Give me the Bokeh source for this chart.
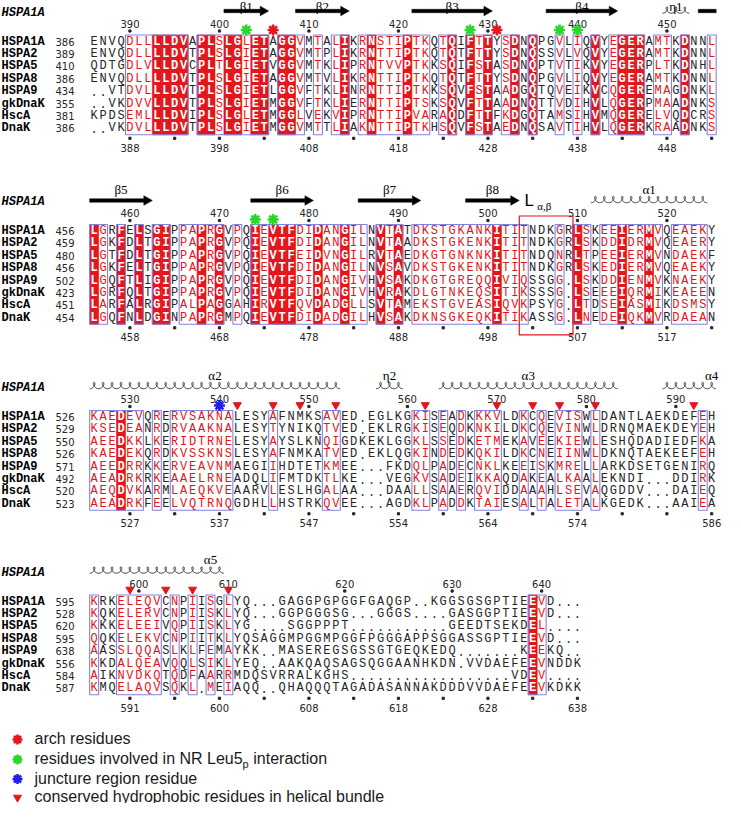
import numpy as np
from bokeh.plotting import figure
from bokeh.models import Range1d
from bokeh.core.properties import value
from bokeh.embed import file_html
from bokeh.resources import INLINE

# ---------------- data ----------------
NAMES = ["HSPA1A", "HSPA2", "HSPA5", "HSPA8", "HSPA9", "gkDnaK", "HscA", "DnaK"]
REF_NAME = "HSPA1A"

SEQ_1 = [
    "ENVQDLLLLDVAPLSLGLETAGGVMTALIKRNSTIPTKQTQIFTTYSDNQPGVLIQVYEGERAMTKDNNL",
    "ENVQDLLLLDVTPLSLGIETAGGVMTPLIKRNTTIPTKQTQTFTTYSDNQSSVLVQVYEGERAMTKDNNL",
    "QDTGDLVLLDVCPLTLGIETVGGVMTKLIPRNTVVPTKKSQIFSTASDNQPTVTIKVYEGERPLTKDNHL",
    "ENVQDLLLLDVTPLSLGIETAGGVMTVLIKRNTTIPTKQTQTFTTYSDNQPGVLIQVYEGERAMTKDNNL",
    "..VTDVLLLDVTPLSLGIETLGGVFTKLINRNTTIPTKKSQVFSTAADGQTQVEIKVCQGEREMAGDNKL",
    "..VKDVVLLDVTPLSLGIETMGGVFTKLIERNTTIPTSKSQVFTTAADNQTTVDIHVLQGERPMAADNKS",
    "KPDSEMLLLDVIPLSLGLETMGGLVEKVIPRNTTIPVARAQDFTTFKDGQTAMSIHVMQGERELVQDCRS",
    "..VKDVLLLDVTPLSLGIETMGGVMTTLIAKNTTIPTKHSQVFSTAEDNQSAVTIHVLQGERKRAADNKS",
]
START_1 = [386, 389, 410, 386, 434, 355, 381, 386]
CONS_1 = "NNNNSSSCCCCNCCSCCSCCNCCSNSNSCNSCSSSCSSNSCNCSCNSCNCNNSNSNCNSCCCNSSNCNNS"
BOTTOM_1 = [388, 398, 408, 418, 428, 438, 448]

SEQ_2 = [
    "LGRFELSGIPPAPRGVPQIEVTFDIDANGILNVTATDKSTGKANKITITNDKGRLSKEEIERMVQEAEKY",
    "LGKFDLTGIPPAPRGVPQIEVTFDIDANGILNVTAADKSTGKENKITITNDKGRLSKDDIDRMVQEAERY",
    "LGTFDLTGIPPAPRGVPQIEVTFEIDVNGILRVTAEDKGTGNKNKITITNDQNRLTPEEIERMVNDAEKF",
    "LGKFELTGIPPAPRGVPQIEVTFDIDANGILNVSAVDKSTGKENKITITNDKGRLSKEDIERMVQEAEKY",
    "LGQFTLIGIPPAPRGVPQIEVTFDIDANGIVHVSAKDKGTGREQQIVIQSSGG.LSKDDIENMVKNAEKY",
    "LGRFQLTGIPPAPRGVPQIEVTFDIDANGIVHVRAKDLGTNKEQSITIKSSSG.LSEEEIQRMIKEAEEN",
    "LARFALRGIPALPAGGAHIRVTFQVDADGLLSVTAMEKSTGVEASIQVKPSYG.LTDSEIASMIKDSMSY",
    "LGQFNLDGINPAPRGMPQIEVTFDIDADGILHVSAKDKNSGKEQKITIKASSG.LNEDEIQKMVRDAEAN",
]
START_2 = [456, 459, 480, 456, 502, 423, 451, 454]
CONS_2 = "CSNCNCNCCNSSCSCNSNCSCCCSSCSSCSSNCSCNSSSSSSSSSCSSSNNNSNCSNSSCSSCSNSSSSN"
BOTTOM_2 = [458, 468, 478, 488, 498, 507, 517]

SEQ_3 = [
    "KAEDEVQRERVSAKNALESYAFNMKSAVED.EGLKGKISEADKKKVLDKCQEVISWLDANTLAEKDEFEH",
    "KSEDEANRDRVAAKNALESYTYNIKQTVED.EKLRGKISEQDKNKILDKCQEVINWLDRNQMAEKDEYEH",
    "AEEDKKLKERIDTRNELESYAYSLKNQIGDKEKLGGKLSSEDKETMEKAVEEKIEWLESHQDADIEDFKA",
    "KAEDEKQRDKVSSKNSLESYAFNMKATVED.EKLQGKINDEDKQKILDKCNEIINWLDKNQTAEKEEFEH",
    "AEEDRRKKERVEAVNMAEGIIHDTETKMEE...FKDQLPADECNKLKEEISKMRELLARKDSETGENIRQ",
    "AEADRKRKEAAELRNEADQLIFMTDKTLKE...VEGKVSADEIKKAQDAKEALKAALEKNDI...DDIRK",
    "AEQDVKARMLAEQKVEAARVLESLHGALAA...DAALLSAAERQVIDDAAAHLSEVAQGDDV...DAIEQ",
    "AEADRKFEELVQTRNQGDHLLHSTRKQVEE...AGDKLPADDKTAIESALTALETALKGEDK...AAIEA",
]
START_3 = [526, 529, 550, 526, 571, 492, 520, 523]
CONS_3 = "SSSCSSNSNSSSSSSSNNNNSNNNNNSSNNNNNNNNSSNSNSNSSSNNSNSNSSSNSNNNNNNNNNNNSN"
BOTTOM_3 = [527, 537, 547, 554, 564, 574, 586]

SEQ_4 = [
    "KRKELEQVCNPIISGLYQ...GAGGPGPGGFGAQGP..KGGSGSGPTIEEVD...",
    "KQKELERVCNPIISKLYQ...GGPGGGSG...GGGS....GASGGPTIEEVD...",
    "KKKELEEIVQPIISKLYG....SGGPPPT...........GEEDTSEKDEL....",
    "QQKELEKVCNPIITKLYQSAGGMPGGMPGGFPGGGAPPSGGASSGPTIEEVD...",
    "AASSLQQASLKLFEMAYKK..MASEREGSGSSGTGEQKEDQ.......KEEKQ..",
    "KKDALQEAVQQLSIKLYEQ..AAKQAQSAGSQGGAANHKDN.VVDAEFEEVNDDK",
    "AIKNVDKQTQDFAARRMDQSVRRALKGHS..................VDEV....",
    "KMQELAQVSQKL.MEIAQQ..QHAQQQTAGADASANNAKDDDVVDAEFEEVKDKK",
]
START_4 = [595, 528, 620, 595, 638, 556, 584, 587]
CONS_4 = "SNNSSSSSNSNSNSNS" + "NNNNNNNNNNNNNNNNNNNNNNNNNNNNNNNNN" + "CSNNNN"
BOTTOM_4 = [591, 600, 608, 618, 628, 638]

# secondary structure of HSPA1A (kind, label, first residue, last residue)
SS_KIND = ["E", "E", "E", "E", "H", "E", "E", "E", "E", "H", "H", "H", "H", "H", "H"]
SS_NAME = ["β1", "β2", "β3", "β4", "η1", "β5", "β6", "β7", "β8", "α1", "α2", "η2", "α3", "α4", "α5"]
SS_FROM = [401, 409, 422, 437, 450, 454, 474, 486, 498, 512, 526, 557, 564, 589, 595]
SS_TO = [405, 414, 430, 444, 452, 462, 480, 492, 503, 524, 553, 559, 583, 594, 609]
SS_LABEL_RES = {"α4": 594, "α5": 608}

LOOP_FROM, LOOP_TO = 504, 509          # L alpha,beta loop (HSPA1A numbering)
ARCH = [406, 431]
NR_LEU5 = [403, 428, 438, 440, 474, 476]
JUNCTURE = [540]
HYDROPHOBIC = [542, 546, 549, 553, 562, 570, 574, 577, 581, 592, 599, 603, 606, 610]

LEGEND_TEXT = ["arch residues", "residues involved in NR Leu5", "juncture region residue",
               "conserved hydrophobic residues in helical bundle"]

SEQS = [SEQ_1, SEQ_2, SEQ_3, SEQ_4]
STARTS = [START_1, START_2, START_3, START_4]
CONS = [CONS_1, CONS_2, CONS_3, CONS_4]
BOTTOMS = [BOTTOM_1, BOTTOM_2, BOTTOM_3, BOTTOM_4]

for b in range(4):
    for s in SEQS[b]:
        assert len(s) == len(CONS[b]), (b, s, len(s), len(CONS[b]))

# ---------------- layout / style ----------------
COL_PX = 8.95
COL0_PX = 92.7
Y0 = [49.0, 238.5, 424.5, 609.0]
ROWH = 12.4
RED = "#E3161B"
BLUE = "#8383E2"
BLACK = "#262626"
GREEN = "#2BD62B"
STARBLUE = "#1F1FE8"
MONO = "Liberation Mono"
SANS = "DejaVu Sans"
SERIF = "Liberation Serif"
LSANS = "Liberation Sans"


def pxc(px):
    return (px - COL0_PX) / COL_PX


p = figure(width=725, height=803, x_range=Range1d(pxc(8), pxc(733)), y_range=Range1d(811, 8),
           output_backend="svg", toolbar_location=None, title=None,
           x_axis_location=None, y_axis_location=None, min_border=0,
           outline_line_color=None, background_fill_color="white", border_fill_color="white")
p.grid.visible = False

# residue maps
ref_map = {}
for b in range(4):
    n = STARTS[b][0]
    for c, ch in enumerate(SEQS[b][0], start=1):
        if ch != ".":
            ref_map[n] = (b, c)
            n += 1

bold_x, bold_y, bold_t = [], [], []
nx, ny, nt, nc = [], [], [], []

for b in range(4):
    seqs, cons, y0 = SEQS[b], CONS[b], Y0[b]
    ncol = len(cons)
    ytop = y0 - ROWH / 2 - 0.3
    ybot = y0 + 7 * ROWH + ROWH / 2 + 0.3
    cc = [c for c in range(1, ncol + 1) if cons[c - 1] == "C"]
    p.quad(left=[c - 0.5 for c in cc], right=[c + 0.5 for c in cc], top=ytop, bottom=ybot,
           fill_color=RED, line_color=RED, line_width=0.6)
    runs = []
    c = 1
    while c <= ncol:
        if cons[c - 1] != "N":
            s0 = c
            while c <= ncol and cons[c - 1] != "N":
                c += 1
            runs.append((s0, c - 1))
        else:
            c += 1
    p.quad(left=[r[0] - 0.5 for r in runs], right=[r[1] + 0.5 for r in runs], top=ytop, bottom=ybot,
           fill_alpha=0, line_color=BLUE, line_width=1.1)
    for r, s in enumerate(seqs):
        yy = y0 + r * ROWH
        for c, ch in enumerate(s, start=1):
            k = cons[c - 1]
            if k == "C":
                bold_x.append(c); bold_y.append(yy); bold_t.append(ch)
            else:
                nx.append(c); ny.append(yy); nt.append(ch)
                nc.append(RED if (k == "S" and ch != ".") else BLACK)
    # names and start numbers
    p.text(x=[pxc(9)] * 8, y=[y0 + r * ROWH for r in range(8)], text=NAMES,
           text_font=value(MONO), text_font_style="bold", text_font_size="12px",
           text_align="left", text_baseline="middle", text_color="black")
    p.text(x=[pxc(63)] * 8, y=[y0 + r * ROWH for r in range(8)], text=[str(v) for v in STARTS[b]],
           text_font=value(SANS), text_font_size="10px", text_align="left",
           text_baseline="middle", text_color=BLACK)
    # header
    p.text(x=[pxc(9)], y=[y0 - 29], text=[REF_NAME], text_font=value(MONO),
           text_font_style="bold italic", text_font_size="12px", text_align="left",
           text_baseline="middle", text_color="black")
    # top numbering (reference)
    tx, tl = [], []
    n = STARTS[b][0]
    for c, ch in enumerate(seqs[0], start=1):
        if ch != ".":
            if n % 10 == 0:
                tx.append(c); tl.append(str(n))
            n += 1
    p.text(x=tx, y=[y0 - 18] * len(tx), text=tl, text_font=value(SANS), text_font_size="10px",
           text_align="center", text_baseline="middle", text_color=BLACK)
    p.scatter(x=tx, y=[y0 - 10.5] * len(tx), marker="square", size=2.2, color=BLACK)
    # bottom numbering (DnaK)
    n = STARTS[b][7]
    dmap = {}
    for c, ch in enumerate(seqs[7], start=1):
        if ch != ".":
            dmap[n] = c
            n += 1
    bx = [dmap[v] for v in BOTTOMS[b]]
    ylast = y0 + 7 * ROWH
    p.text(x=bx, y=[ylast + 19.5] * len(bx), text=[str(v) for v in BOTTOMS[b]],
           text_font=value(SANS), text_font_size="10px", text_align="center",
           text_baseline="middle", text_color=BLACK)
    dx = list(range(5, ncol + 1, 5))
    p.scatter(x=dx, y=[ylast + 10] * len(dx), marker="square", size=2.2, color=BLACK)

p.text(x=bold_x, y=bold_y, text=bold_t, text_font=value(MONO), text_font_style="bold",
       text_font_size="12px", text_align="center", text_baseline="middle", text_color="white")
p.text(x=nx, y=ny, text=nt, text_font=value(MONO), text_font_size="12px",
       text_align="center", text_baseline="middle", text_color=nc)

# secondary structure
SHAFT = 1.7
HEAD_H = 4.8
HEAD_L = 8.5
RX = 2.6
BY = 3.2
for kind, name, r0, r1 in zip(SS_KIND, SS_NAME, SS_FROM, SS_TO):
    segs = {}
    for res in range(r0, r1 + 1):
        b, c = ref_map[res]
        segs.setdefault(b, []).append(c)
    best = max(segs, key=lambda k: len(segs[k]))
    for b, cols in segs.items():
        xs, xe = min(cols) - 0.5, max(cols) + 0.5
        yc = Y0[b] - 30.5
        if kind == "E":
            has_head = ref_map[r1][0] == b
            xshaft = xe - HEAD_L / COL_PX if has_head else xe
            p.quad(left=[xs], right=[xshaft], top=[yc - SHAFT], bottom=[yc + SHAFT],
                   fill_color="black", line_color="black", line_width=0.5)
            if has_head:
                p.patch(x=[xshaft, xe, xshaft], y=[yc - HEAD_H, yc, yc + HEAD_H],
                        fill_color="black", line_color="black", line_width=0.5)
        else:
            nloop = len(cols)
            t = np.linspace(np.pi, np.pi + 2 * np.pi * nloop, 50 * nloop)
            per = (xe - xs) / nloop
            x = xs + (t - np.pi) / (2 * np.pi) * per - (RX / COL_PX) * np.sin(t)
            y = (yc - 1) - BY * np.cos(t)
            p.line(x=x, y=y, line_color="#333333", line_width=1.0)
    if name in SS_LABEL_RES:
        lb, lc = ref_map[SS_LABEL_RES[name]]
    else:
        cols = segs[best]
        lb, lc = best, (min(cols) + max(cols)) / 2
    ly = max(Y0[lb] - 42, 14)
    p.text(x=[lc], y=[ly], text=[name], text_font=value(SERIF), text_font_size="13px",
           text_align="center", text_baseline="middle", text_color="black")

# L alpha,beta loop box
lb, lc0 = ref_map[LOOP_FROM]
_, lc1 = ref_map[LOOP_TO]
yb0 = Y0[lb] - 15
yb1 = Y0[lb] + 7 * ROWH + 17
p.quad(left=[lc0 - 0.5], right=[lc1 + 0.5], top=[yb0], bottom=[yb1], fill_alpha=0,
       line_color=RED, line_width=1.2)
p.text(x=[lc0 + 0.6], y=[Y0[lb] - 31], text=["L"], text_font=value(LSANS), text_font_size="17px",
       text_align="center", text_baseline="middle", text_color="black")
p.text(x=[lc0 + 2.3], y=[Y0[lb] - 25.5], text=["α,β"], text_font=value(SERIF), text_font_size="11px",
       text_align="center", text_baseline="middle", text_color="black")

# site markers
def mark(resids, yoff):
    xs_, ys_ = [], []
    for r in resids:
        b, c = ref_map[r]
        xs_.append(c); ys_.append(Y0[b] - yoff)
    return xs_, ys_

for resids, col in [(ARCH, RED), (NR_LEU5, GREEN), (JUNCTURE, STARBLUE)]:
    mx, my = mark(resids, 11.5)
    p.scatter(x=mx, y=my, marker="asterisk", size=11, line_color=col, line_width=2.6)
mx, my = mark(HYDROPHOBIC, 12)
p.scatter(x=mx, y=my, marker="inverted_triangle", size=8, fill_color=RED, line_color=RED)

# legend
LEG_Y = [746, 766, 785.5, 804]
LEG_MX = pxc(25)
LEG_TX = pxc(42)
for i, (col, mk) in enumerate([(RED, "asterisk"), (GREEN, "asterisk"), (STARBLUE, "asterisk"),
                               (RED, "inverted_triangle")]):
    if mk == "asterisk":
        p.scatter(x=[LEG_MX], y=[LEG_Y[i] + 1], marker=mk, size=10, line_color=col, line_width=2.6)
    else:
        p.scatter(x=[LEG_MX], y=[LEG_Y[i] + 1], marker=mk, size=8, fill_color=col, line_color=col)
    p.text(x=[LEG_TX], y=[LEG_Y[i]], text=[LEGEND_TEXT[i]], text_font=value(LSANS),
           text_font_size="16px", text_align="left", text_baseline="middle", text_color="#1a1a1a")
sub_x = LEG_TX + 208.1 / COL_PX
p.text(x=[sub_x], y=[LEG_Y[1] + 5], text=["p"], text_font=value(LSANS), text_font_size="11px",
       text_align="left", text_baseline="middle", text_color="#1a1a1a")
p.text(x=[sub_x + (6.2 + 4.5) / COL_PX], y=[LEG_Y[1]], text=["interaction"], text_font=value(LSANS),
       text_font_size="16px", text_align="left", text_baseline="middle", text_color="#1a1a1a")

open("out.html", "w").write(file_html(p, INLINE))
